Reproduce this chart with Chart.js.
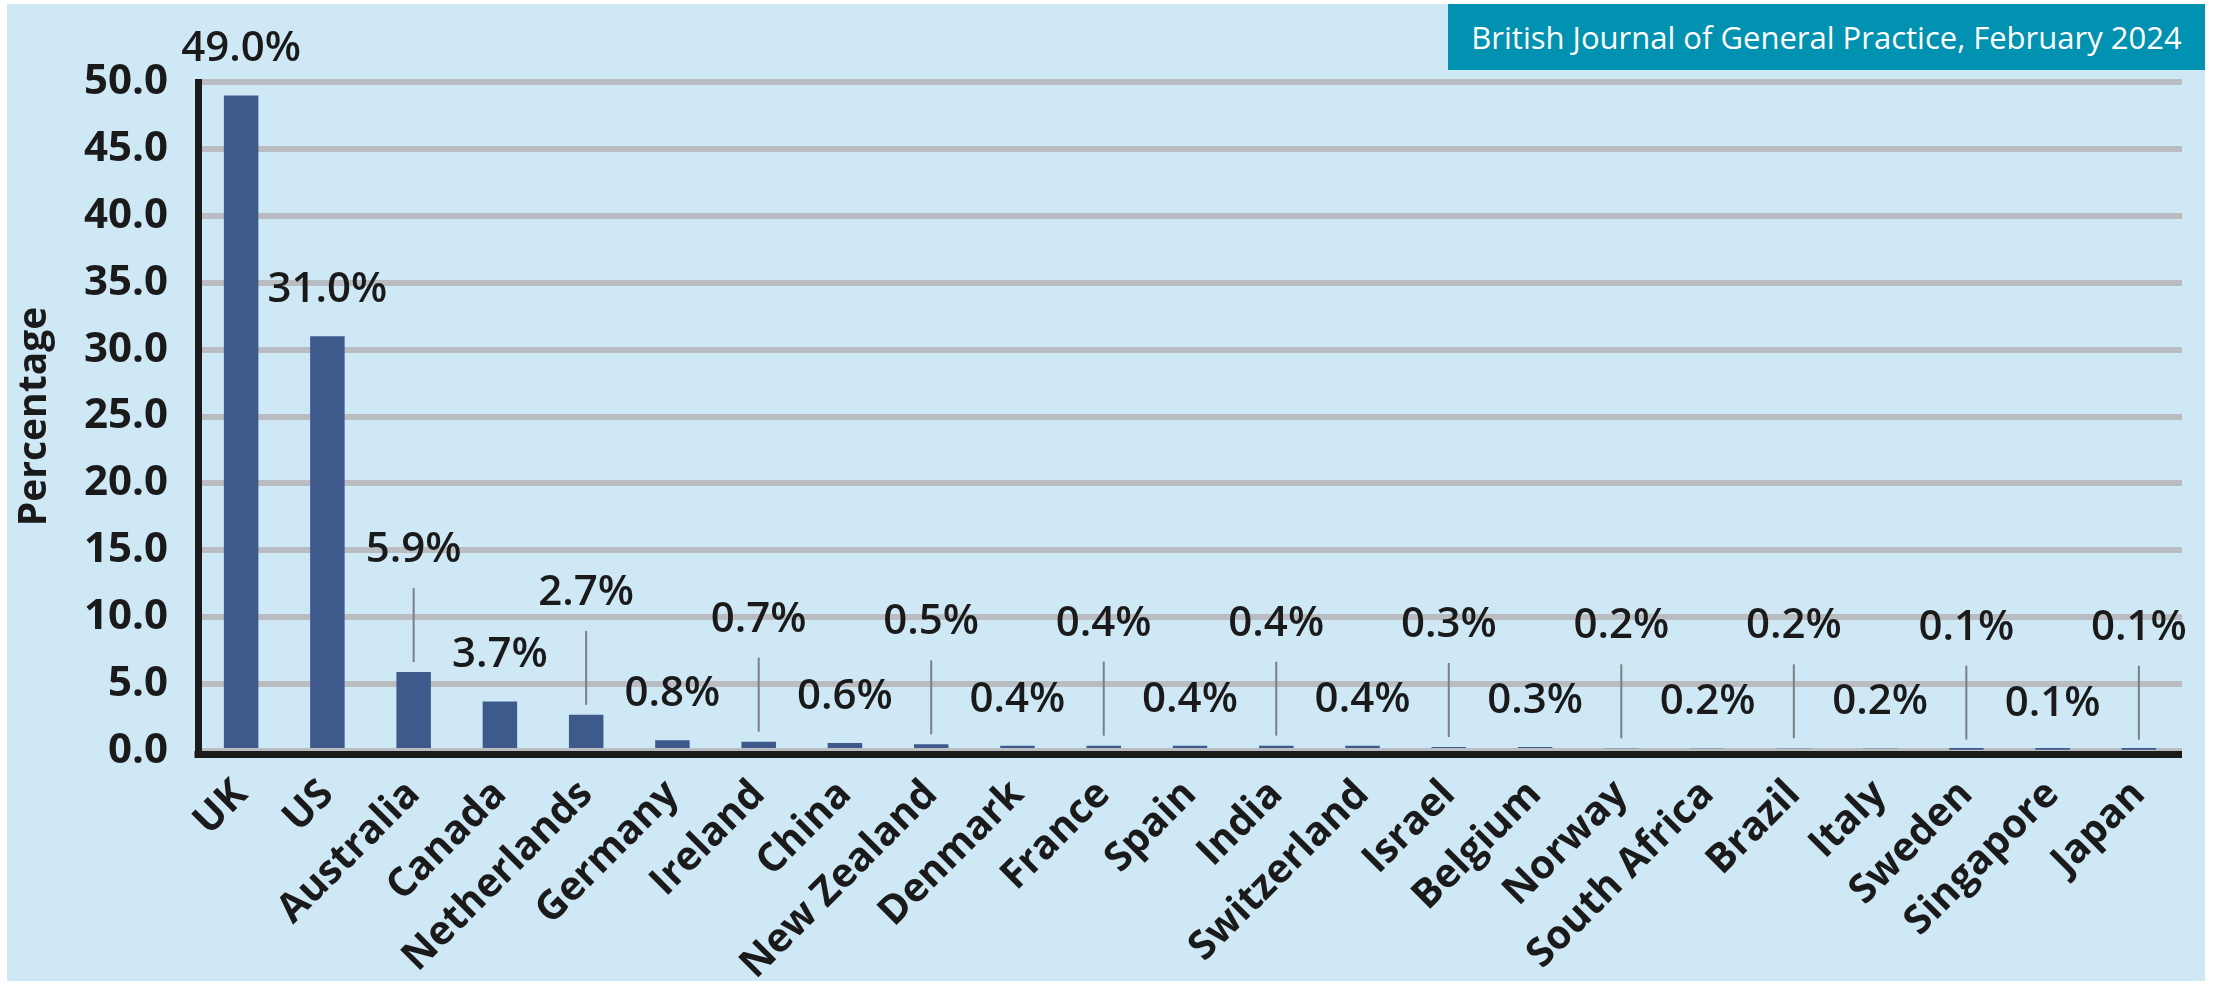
<!DOCTYPE html>
<html>
<head>
<meta charset="utf-8">
<script src="https://cdn.jsdelivr.net/npm/chart.js@4"></script>
<style>
  body { margin: 0; background: #fff; }
  #wrap { position: relative; width: 2215px; height: 988px; }
  #panel { position: absolute; left: 7px; top: 4px; width: 2198px; height: 977px; background: #cfe8f6; }
  #badge { position: absolute; left: 1448px; top: 4px; width: 757px; height: 66px; background: #0092b0;
           color: #fff; font-family: "Open Sans"; font-size: 31px; display: flex; align-items: center; justify-content: center; }
  canvas { position: absolute; left: 0; top: 0; }
</style>
</head>
<body>
<div id="wrap">
  <div id="panel"></div>
  <canvas id="barChart" width="2215" height="988"></canvas>
  <div id="badge">British Journal of General Practice, February 2024</div>
</div>
<script>
// Datos del gráfico
const countries = ['UK', 'US', 'Australia', 'Canada', 'Netherlands', 'Germany', 'Ireland', 'China',
    'New Zealand', 'Denmark', 'France', 'Spain', 'India', 'Switzerland', 'Israel', 'Belgium',
    'Norway', 'South Africa', 'Brazil', 'Italy', 'Sweden', 'Singapore', 'Japan'];
const percentages = [49.0, 31.0, 5.9, 3.7, 2.7, 0.8, 0.7, 0.6, 0.5, 0.4, 0.4, 0.4, 0.4, 0.4,
    0.3, 0.3, 0.2, 0.2, 0.2, 0.2, 0.1, 0.1, 0.1];
const yMax = 50;
const yStep = 5;
const yTitle = 'Percentage';

const textColor = '#1a1a1a';
const axisColor = '#1b1b1b';

// Eje X dibujado justo debajo de la base de las barras
const baseLine = {
    id: 'baseLine',
    afterDatasetsDraw(chart) {
        const { ctx, chartArea } = chart;
        ctx.save();
        ctx.fillStyle = axisColor;
        ctx.fillRect(chartArea.left - 3.5, chartArea.bottom, chartArea.right - chartArea.left + 3.5, 7);
        ctx.restore();
    }
};

// Etiquetas de valor encima de las barras (alternadas, con línea guía)
const barLabels = {
    id: 'barLabels',
    afterDatasetsDraw(chart) {
        const ctx = chart.ctx;
        const meta = chart.getDatasetMeta(0);
        ctx.save();
        ctx.font = '600 42px "Open Sans"';
        ctx.textAlign = 'center';
        ctx.textBaseline = 'middle';
        meta.data.forEach((bar, i) => {
            const raised = i >= 2 && i % 2 === 0;
            let y = bar.y - 46;
            if (raised) {
                y = bar.y - 122;
                ctx.strokeStyle = '#7b7f84';
                ctx.lineWidth = 2;
                ctx.beginPath();
                ctx.moveTo(bar.x, y + 38);
                ctx.lineTo(bar.x, bar.y - 10);
                ctx.stroke();
            }
            ctx.fillStyle = textColor;
            ctx.fillText(percentages[i].toFixed(1) + '%', bar.x, y);
        });
        ctx.restore();
    }
};

const ctx = document.getElementById('barChart').getContext('2d');
const barChart = new Chart(ctx, {
    type: 'bar',
    data: {
        labels: countries,
        datasets: [{
            data: percentages,
            backgroundColor: '#3e598c',
            barPercentage: 0.4,
            categoryPercentage: 1.0
        }]
    },
    options: {
        responsive: false,
        animation: false,
        layout: { padding: { left: 8, top: 82, right: 33, bottom: 0 } },
        plugins: {
            legend: { display: false },
            tooltip: { enabled: false }
        },
        scales: {
            x: {
                grid: { display: false, drawTicks: false },
                border: { display: false },
                ticks: {
                    color: textColor,
                    font: { family: 'Open Sans', size: 40, weight: 'bold' },
                    minRotation: 45,
                    maxRotation: 45,
                    autoSkip: false,
                    padding: 20
                },
                afterFit(axis) { axis.height = 237; }
            },
            y: {
                min: 0,
                max: yMax,
                grid: { color: '#b9bdc1', lineWidth: 6, drawTicks: false },
                border: { display: true, color: axisColor, width: 7 },
                ticks: {
                    stepSize: yStep,
                    color: textColor,
                    font: { family: 'Open Sans', size: 42, weight: 'bold' },
                    padding: 30,
                    callback: v => v.toFixed(1)
                },
                title: {
                    display: true,
                    text: yTitle,
                    color: textColor,
                    font: { family: 'Open Sans', size: 39, weight: 'bold' },
                    padding: { top: 3, bottom: 0 }
                },
                afterFit(axis) { axis.width = 190; }
            }
        }
    },
    plugins: [baseLine, barLabels]
});
</script>
</body>
</html>
